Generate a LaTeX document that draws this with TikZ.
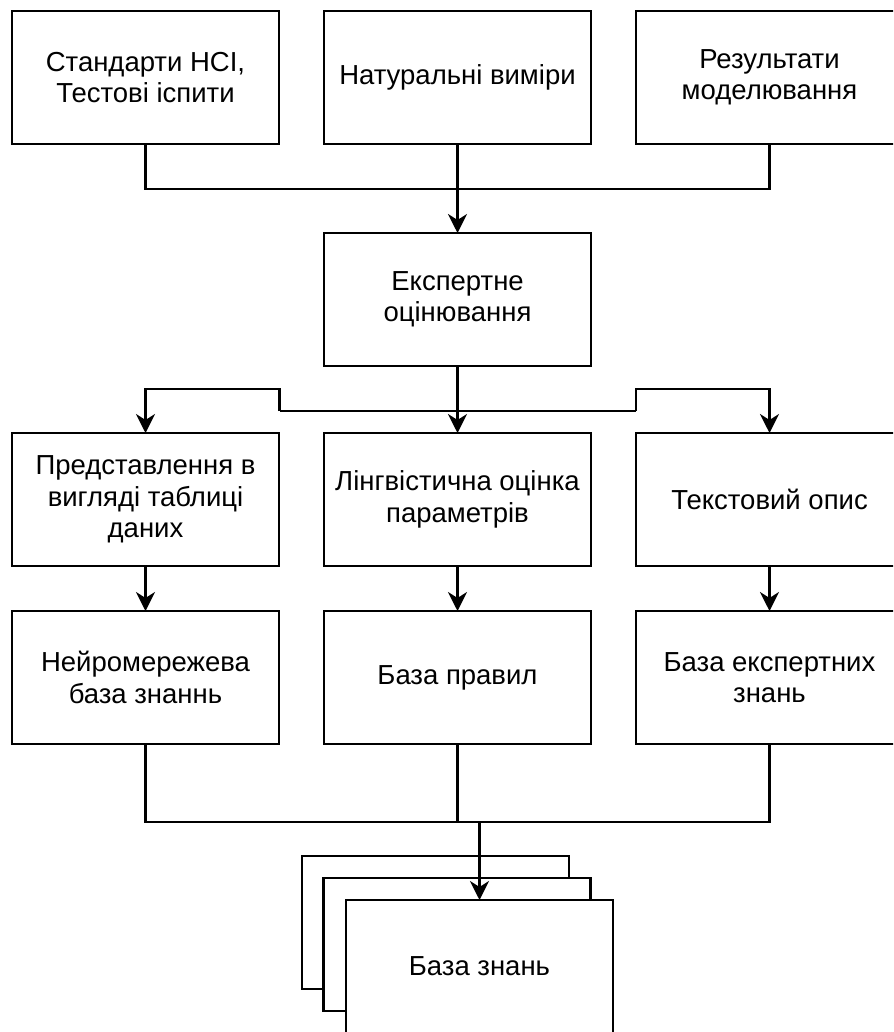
\documentclass[tikz,border=0pt]{standalone}
\usepackage{fontspec}
\setmainfont{Liberation Sans}
\usetikzlibrary{arrows.meta}
\tikzset{
  box/.style={draw=black, line width=2.2pt, fill=white, rectangle, minimum width=267pt, minimum height=133pt, outer sep=0pt, inner sep=0pt, align=center, font=\fontsize{27.5}{31.5}\selectfont},
  link/.style={draw=black, line width=2.2pt},
  arr/.style={link, -{Stealth[length=19pt, width=19pt, inset=6pt]}}
}
\begin{document}
\begin{tikzpicture}[x=1pt, y=-1pt]
\clip (0,0) rectangle (893,1032);
\fill[white] (0,0) rectangle (893,1032);
% top row
\node[box] (in1) at (145.5,77.5) {Стандарти НСІ,\\Тестові іспити};
\node[box] (in2) at (457.5,77.5) {Натуральні виміри};
\node[box] (in3) at (769.5,77.5) {Результати\\моделювання};
% expert
\node[box] (exp) at (457.5,299.5) {Експертне\\оцінювання};
% row 3
\node[box] (r1) at (145.5,499.5) {Представлення в\\вигляді таблиці\\даних};
\node[box] (r2) at (457.5,499.5) {Лінгвістична оцінка\\параметрів};
\node[box] (r3) at (769.5,499.5) {Текстовий опис};
% row 4
\node[box] (k1) at (145.5,677.5) {Нейромережева\\база знаннь};
\node[box] (k2) at (457.5,677.5) {База правил};
\node[box] (k3) at (769.5,677.5) {База експертних\\знань};
% stacked knowledge base
\node[box] (s1) at (435.5,922.5) {};
\node[box] (s2) at (457,944.5) {};
\node[box] (kb) at (479.5,966.5) {База знань};
% connectors top
\draw[link] (in1.south) -- ++(0,45) -| (in3.south);
\draw[arr] (in2.south) -- (exp.north);
% connectors from expert
\coordinate (jl) at (279.5,411);
\coordinate (jr) at (636,411);
\draw[arr] (exp.south) -- (r2.north);
\draw[link] (jl) -- (jr);
\draw[arr] (jl) -- ++(0,-22) -| (r1.north);
\draw[arr] (jr) -- ++(0,-22) -| (r3.north);
% row 3 to row 4
\draw[arr] (r1.south) -- (k1.north);
\draw[arr] (r2.south) -- (k2.north);
\draw[arr] (r3.south) -- (k3.north);
% bottom
\draw[link] (k1.south) -- ++(0,78) -| (k3.south);
\draw[link] (k2.south) -- ++(0,78);
\coordinate (jb) at (479.5,822);
\draw[arr] (jb) -- (kb.north);
\end{tikzpicture}
\end{document}
